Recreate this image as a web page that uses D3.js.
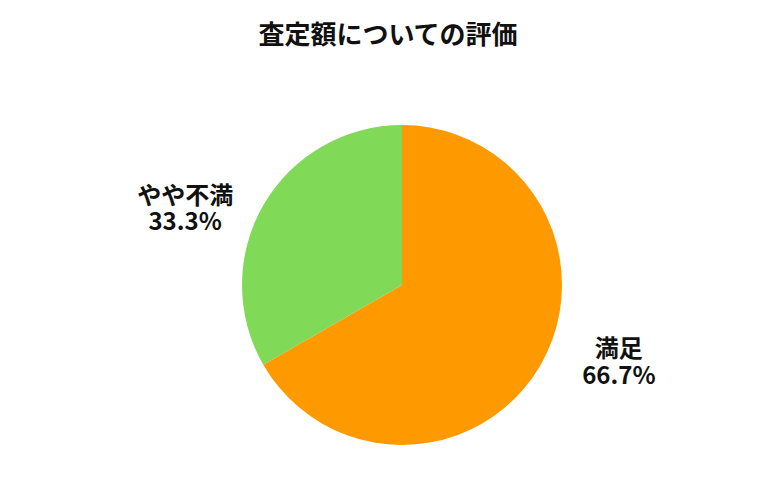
<!DOCTYPE html>
<html>
<head>
<meta charset="utf-8">
<script src="https://cdn.jsdelivr.net/npm/d3@7"></script>
<style>
  body { margin: 0; background: #fff; }
  text { font-family: "Noto Sans CJK JP", "Noto Sans", sans-serif; font-weight: bold; fill: #111; }
</style>
</head>
<body>
<div id="chart"></div>
<script>
const title = "査定額についての評価";
const categories = ["満足", "やや不満"];
const values = [66.7, 33.3];
const colors = ["#ff9900", "#80d957"];

const width = 780, height = 500;
const cx = 402, cy = 285, r = 160;

const svg = d3.select("#chart").append("svg")
    .attr("width", width)
    .attr("height", height);

svg.append("text")
    .attr("x", 388)
    .attr("y", 44)
    .attr("text-anchor", "middle")
    .style("font-size", "26px")
    .text(title);

const data = categories.map((c, i) => ({ name: c, value: values[i], color: colors[i] }));

const pie = d3.pie().value(d => d.value).sort(null);
const arcs = pie(data);
const arc = d3.arc().innerRadius(0).outerRadius(r);

const g = svg.append("g").attr("transform", "translate(" + cx + "," + cy + ")");

g.selectAll("path")
    .data(arcs)
    .enter().append("path")
    .attr("d", arc)
    .attr("fill", d => d.data.color);

// labels outside, pushed sideways and flattened a bit
const labelArc = d3.arc().innerRadius(232).outerRadius(232);
const lab = g.selectAll(".lab")
    .data(arcs)
    .enter().append("text")
    .attr("class", "lab")
    .attr("text-anchor", "middle")
    .style("font-size", "24px")
    .attr("transform", d => {
      const c = labelArc.centroid(d);
      return "translate(" + (c[0] * 1.08) + "," + (c[1] * 0.66) + ")";
    });
lab.append("tspan").attr("x", 0).attr("dy", "-0.2em").text(d => d.data.name);
lab.append("tspan").attr("x", 0).attr("dy", "1.12em").text(d => d.data.value.toFixed(1) + "%");
</script>
</body>
</html>
